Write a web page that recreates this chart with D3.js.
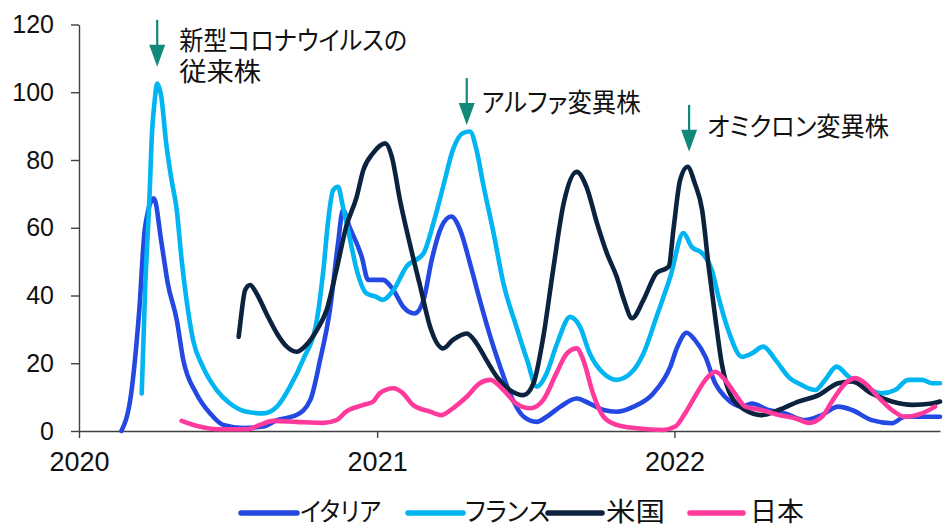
<!DOCTYPE html>
<html>
<head>
<meta charset="utf-8">
<script src="https://cdn.jsdelivr.net/npm/d3@7"></script>
<style>
  html, body { margin: 0; padding: 0; background: #fff; }
  svg { display: block; }
  .jp { font-family: "Noto Sans CJK JP", "Noto Sans", sans-serif; font-feature-settings: "palt"; fill: #111; }
  .num { font-family: "Liberation Sans", Arial, sans-serif; fill: #111; }
</style>
</head>
<body>
<svg id="chart" width="945" height="528"></svg>
<script>
// 7-day average of new cases (per million), weekly-ish readings
const seriesNames = ["イタリア", "フランス", "米国", "日本"];
const seriesColors = ["#2449E3", "#00B5F1", "#0C233F", "#FF3A9D"];

const italy = [
  ["2020-02-22",0],["2020-03-05",11],["2020-03-15",35.7],["2020-03-22",60],["2020-04-02",68.7],
  ["2020-04-11",56],["2020-04-19",43.6],["2020-04-30",32.8],["2020-05-08",21],["2020-05-24",11.1],
  ["2020-06-10",5.2],["2020-06-26",1.8],["2020-07-21",0.9],["2020-08-14",1.3],["2020-08-31",3.2],
  ["2020-09-24",4.7],["2020-10-11",9.2],["2020-10-23",21],["2020-11-04",35.7],["2020-11-14",55.4],
  ["2020-11-20",65.2],["2020-11-28",60.3],["2020-12-13",51.5],["2020-12-21",44.6],["2021-01-08",44.6],
  ["2021-01-21",41.6],["2021-02-02",36.7],["2021-02-16",34.7],["2021-02-27",38.7],["2021-03-09",50.5],
  ["2021-03-21",60.3],["2021-04-02",63.3],["2021-04-13",59.3],["2021-04-25",49.5],["2021-05-07",38.7],
  ["2021-05-20",27.8],["2021-06-01",19],["2021-06-13",11.1],["2021-06-30",4.2],["2021-07-16",2.7],
  ["2021-07-28",4.2],["2021-08-14",7.2],["2021-09-03",9.6],["2021-09-19",8.1],["2021-10-06",6.2],
  ["2021-10-22",5.7],["2021-11-12",7.2],["2021-12-06",11.1],["2021-12-27",19],["2022-01-04",24.5],
  ["2022-01-16",29],["2022-01-26",26.9],["2022-02-08",21.9],["2022-02-20",14.1],["2022-03-04",10.1],
  ["2022-03-25",7.2],["2022-04-06",8.1],["2022-04-26",6.2],["2022-05-17",5.2],["2022-06-10",3.2],
  ["2022-07-01",4.7],["2022-07-21",7.2],["2022-08-07",6.2],["2022-08-31",3.2],["2022-09-25",2.3],
  ["2022-10-11",4.2],["2022-11-23",4.2]
];

const france = [
  ["2020-03-18",11.1],["2020-03-22",40.6],["2020-03-28",72],["2020-03-30",85],["2020-04-03",97.7],
  ["2020-04-06",102.6],["2020-04-11",98.7],["2020-04-17",85],["2020-04-23",75],["2020-04-30",65.2],
  ["2020-05-06",50.5],["2020-05-12",38.7],["2020-05-20",26.9],["2020-06-01",19],["2020-06-18",12.1],
  ["2020-07-04",8.2],["2020-07-25",5.7],["2020-08-14",5.2],["2020-08-31",7.2],["2020-09-16",13.1],
  ["2020-10-02",21],["2020-10-19",32.8],["2020-10-27",47.5],["2020-11-02",62.3],["2020-11-08",71.1],
  ["2020-11-14",72.1],["2020-11-20",66.2],["2020-11-28",57.4],["2020-12-07",47.5],["2020-12-19",40.6],
  ["2020-12-31",39.6],["2021-01-08",38.7],["2021-01-21",41.6],["2021-02-06",48.5],["2021-02-27",52.5],
  ["2021-03-11",61.3],["2021-03-23",72.1],["2021-04-04",83],["2021-04-16",87.9],["2021-04-25",88.4],
  ["2021-05-03",83],["2021-05-11",73.1],["2021-05-24",58.4],["2021-06-05",43.6],["2021-06-21",30.8],
  ["2021-07-04",21],["2021-07-16",13.1],["2021-07-28",17],["2021-08-10",25.9],["2021-08-26",33.7],
  ["2021-09-07",30.8],["2021-09-19",22.9],["2021-10-06",17],["2021-10-22",15.1],["2021-11-08",17],
  ["2021-11-24",22.9],["2021-12-10",33.7],["2021-12-27",45.6],["2022-01-12",58.4],["2022-01-22",54.4],
  ["2022-02-04",52.5],["2022-02-16",47.5],["2022-02-24",39.6],["2022-03-08",29.8],["2022-03-25",21.9],
  ["2022-04-06",22.9],["2022-04-20",24.9],["2022-05-05",21],["2022-05-21",16],["2022-06-06",13.6],
  ["2022-06-23",12.1],["2022-07-05",15.1],["2022-07-19",19],["2022-08-03",16],["2022-08-23",13.1],
  ["2022-09-12",11.1],["2022-09-29",12.1],["2022-10-15",15.1],["2022-11-01",15.1],["2022-11-13",14.1],
  ["2022-11-23",14.1]
];

const usa = [
  ["2020-07-15",27.8],["2020-07-17",31.8],["2020-07-23",41.6],["2020-07-29",43.1],["2020-08-06",40.6],
  ["2020-08-18",34.7],["2020-08-31",28.8],["2020-09-12",24.9],["2020-09-24",23.4],["2020-10-06",25.4],
  ["2020-10-19",29.8],["2020-10-31",35.7],["2020-11-12",47.5],["2020-11-24",60.3],["2020-12-07",69.2],
  ["2020-12-15",77],["2020-12-27",82],["2021-01-11",84.9],["2021-01-19",81],["2021-01-29",68.2],
  ["2021-02-10",55.4],["2021-02-23",42.6],["2021-03-07",30.8],["2021-03-23",24.4],["2021-04-04",26.9],
  ["2021-04-21",28.8],["2021-05-03",25.9],["2021-05-15",21],["2021-05-28",16],["2021-06-13",12.1],
  ["2021-06-30",10.6],["2021-07-12",14.1],["2021-07-24",27.8],["2021-08-05",47.5],["2021-08-18",67.2],
  ["2021-09-03",76.5],["2021-09-15",72.1],["2021-09-28",61.3],["2021-10-10",52.5],["2021-10-22",45.6],
  ["2021-10-31",38.7],["2021-11-10",33.3],["2021-11-24",38.7],["2021-12-10",46.6],["2021-12-25",48.5],
  ["2021-12-31",60],["2022-01-08",74.1],["2022-01-17",78],["2022-01-26",73.1],["2022-02-04",65.2],
  ["2022-02-12",48.5],["2022-02-20",33.7],["2022-02-28",20],["2022-03-12",10.1],["2022-03-29",6.2],
  ["2022-04-18",4.7],["2022-05-09",6.2],["2022-06-02",8.7],["2022-06-27",10.6],["2022-07-21",14.1],
  ["2022-08-07",14.6],["2022-08-31",11.1],["2022-09-25",8.7],["2022-10-20",7.7],["2022-11-13",8.1],
  ["2022-11-23",8.7]
];

const japan = [
  ["2020-05-06",3],["2020-05-28",1.3],["2020-06-18",0.5],["2020-07-25",0.5],["2020-08-10",1.8],
  ["2020-08-26",3],["2020-09-24",2.7],["2020-10-27",2.4],["2020-11-12",3.2],["2020-11-24",5.7],
  ["2020-12-15",7.7],["2020-12-27",8.7],["2021-01-04",11.1],["2021-01-21",12.6],["2021-02-02",11.1],
  ["2021-02-14",7.7],["2021-03-07",5.7],["2021-03-21",4.7],["2021-04-04",6.7],["2021-04-21",10.1],
  ["2021-05-07",14.1],["2021-05-20",15.1],["2021-06-05",12.1],["2021-06-21",8.1],["2021-07-08",6.7],
  ["2021-07-24",9.2],["2021-08-09",17],["2021-08-22",22.9],["2021-09-03",24.4],["2021-09-11",21],
  ["2021-09-23",11.1],["2021-10-06",4.2],["2021-10-22",1.8],["2021-11-16",0.8],["2021-12-18",0.3],
  ["2022-01-02",1.3],["2022-01-14",5.2],["2022-01-26",10.1],["2022-02-08",15.1],["2022-02-20",17.5],
  ["2022-03-04",15.1],["2022-03-16",11.1],["2022-03-29",7.2],["2022-04-18",6.2],["2022-05-09",4.7],
  ["2022-05-30",3.7],["2022-06-15",2.4],["2022-07-01",4.2],["2022-07-17",10.1],["2022-07-30",14.1],
  ["2022-08-11",15.6],["2022-08-23",14.1],["2022-09-08",10.1],["2022-09-25",6.2],["2022-10-11",4.2],
  ["2022-11-01",5.2],["2022-11-17",7.2]
];

const yTicks = [0, 20, 40, 60, 80, 100, 120];
const xTickLabels = ["2020", "2021", "2022"];

// Variant annotations: date of the arrow, value at the arrow tip, text lines
const annotationDates = ["2020-04-06", "2021-04-21", "2022-01-19"];
const annotationTips = [107.5, 90.3, 82.4];
const annotationLabels = [["新型コロナウイルスの", "従来株"], ["アルファ変異株"], ["オミクロン変異株"]];

// ---- layout ----
const parse = d3.timeParse("%Y-%m-%d");
const svg = d3.select("#chart");
const x = d3.scaleTime()
  .domain([parse("2020-01-01"), parse("2022-11-23")])
  .range([79, 940]);
const y = d3.scaleLinear().domain([0, 120]).range([431, 24.5]);

// y axis
const yAxis = svg.append("g")
  .attr("transform", "translate(79,0)")
  .call(d3.axisLeft(y).tickValues(yTicks).tickSize(8).tickSizeOuter(0).tickPadding(17));
yAxis.selectAll("text").attr("class", "num").style("font-size", "25px").attr("fill", "#111");

// x axis
const xAxis = svg.append("g")
  .attr("transform", "translate(0,431)")
  .call(d3.axisBottom(x)
    .tickValues(xTickLabels.map(s => parse(s + "-01-01")))
    .tickFormat((d, i) => xTickLabels[i])
    .tickSize(7).tickSizeOuter(0).tickPadding(14));
xAxis.selectAll("text").attr("class", "num").style("font-size", "27px").attr("fill", "#111");

svg.selectAll(".domain, .tick line").attr("stroke", "#404040").attr("stroke-width", 1.4);
svg.selectAll("g text").attr("font-family", null);

// series lines
const line = d3.line()
  .x(d => x(parse(d[0])))
  .y(d => y(d[1]))
  .curve(d3.curveMonotoneX);

const allSeries = [italy, france, usa, japan];
svg.append("g").selectAll("path")
  .data(allSeries)
  .join("path")
  .attr("d", line)
  .attr("fill", "none")
  .attr("stroke", (d, i) => seriesColors[i])
  .attr("stroke-width", 4.6)
  .attr("stroke-linejoin", "round")
  .attr("stroke-linecap", "round");

// annotations
const arrowColor = "#10897A";
const arrowLen = 47, headW = 16, headH = 22;
const labelDx = [22, 15, 18];
const labelDy = [30, 34, 31];
const labelWidths = [[228, 82], [159], [182]];
const ann = svg.append("g");
annotationDates.forEach((ds, i) => {
  const ax = x(parse(ds));
  const tip = y(annotationTips[i]);
  const top = tip - arrowLen;
  ann.append("line")
    .attr("x1", ax).attr("x2", ax)
    .attr("y1", top).attr("y2", tip - headH + 2)
    .attr("stroke", arrowColor).attr("stroke-width", 2.2);
  ann.append("path")
    .attr("d", `M${ax - headW / 2},${tip - headH}L${ax + headW / 2},${tip - headH}L${ax},${tip}Z`)
    .attr("fill", arrowColor);
  // one text block per annotation, one tspan per line
  const txt = ann.append("text")
    .attr("class", "jp")
    .style("font-size", "26px");
  annotationLabels[i].forEach((t, j) => {
    txt.append("tspan")
      .attr("x", ax + labelDx[i])
      .attr("y", top + labelDy[i] + j * 31)
      .attr("textLength", labelWidths[i][j])
      .attr("lengthAdjust", "spacingAndGlyphs")
      .text(t);
  });
});

// legend
const legendLineX0 = [241, 408, 548, 690];
const legendLineX1 = [297, 463, 602, 743];
const legendTextX = [300, 465, 606, 750];
const legendTextW = [81, 85, 59, 54];
const legend = svg.append("g");
seriesNames.forEach((name, i) => {
  legend.append("line")
    .attr("x1", legendLineX0[i]).attr("x2", legendLineX1[i])
    .attr("y1", 513).attr("y2", 513)
    .attr("stroke", seriesColors[i]).attr("stroke-width", 5.5)
    .attr("stroke-linecap", "round");
  legend.append("text")
    .attr("class", "jp")
    .attr("x", legendTextX[i]).attr("y", 521)
    .attr("textLength", legendTextW[i])
    .attr("lengthAdjust", "spacingAndGlyphs")
    .style("font-size", "26px")
    .text(name);
});
</script>
</body>
</html>
